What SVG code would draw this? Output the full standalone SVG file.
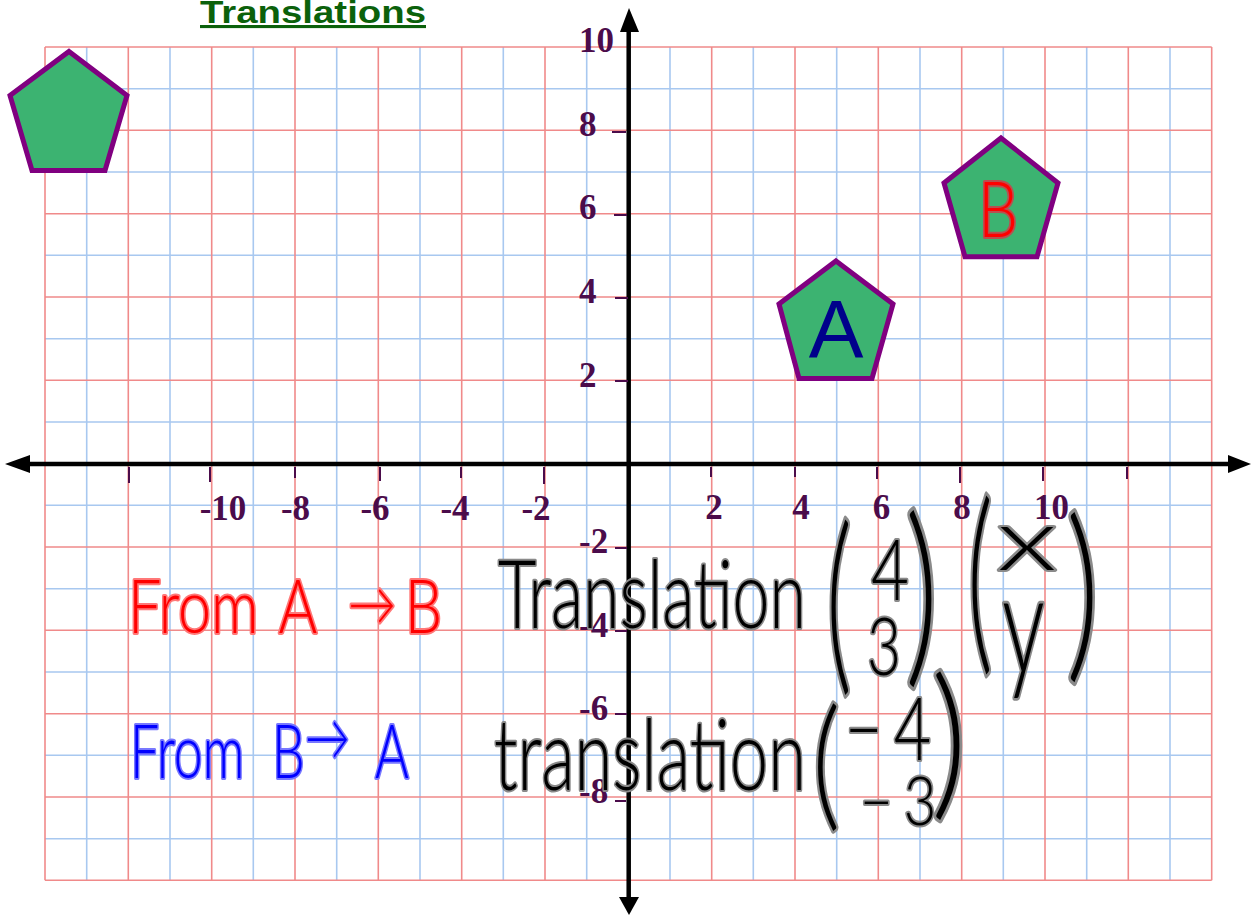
<svg xmlns="http://www.w3.org/2000/svg" width="1255" height="915" viewBox="0 0 1255 915">
<style>
.gb{stroke:#A8C8F0;stroke-width:1.6;fill:none}
.gr{stroke:#F08A8A;stroke-width:1.6;fill:none}
.axis{stroke:#000;stroke-width:4.5;fill:none}
.tick{stroke:#4B0C4B;stroke-width:2;fill:none}
.ax{font-family:"Liberation Serif",serif;font-weight:bold;font-size:35px;fill:#4B0C4B}
.axm{text-anchor:middle}
.pent{fill:#3CB371;stroke:#800080;stroke-width:5;stroke-linejoin:miter}
.hw{font-family:Lato,"Liberation Sans",sans-serif;font-weight:300;paint-order:stroke;stroke-linejoin:round;stroke-linecap:round}
.red{fill:#FF0000;stroke:#FF7878;stroke-width:4}
.blue{fill:#0000FF;stroke:#7878FF;stroke-width:4}
.blk{fill:#000;stroke:#8A8A8A;stroke-width:4}
</style>
<rect width="1255" height="915" fill="#fff"/>
<g id="grid">
<path class="gb" d="M86.7,47V880.3M170,47V880.3M253.3,47V880.3M336.7,47V880.3M420,47V880.3M503.3,47V880.3M586.7,47V880.3M670,47V880.3M753.3,47V880.3M836.7,47V880.3M920,47V880.3M1003.3,47V880.3M1086.7,47V880.3M1170,47V880.3M45,88.7H1211.7M45,172H1211.7M45,255.3H1211.7M45,338.7H1211.7M45,422H1211.7M45,505.3H1211.7M45,588.7H1211.7M45,672H1211.7M45,755.3H1211.7M45,838.7H1211.7"/>
<path class="gr" d="M45,47V880.3M128.3,47V880.3M211.7,47V880.3M295,47V880.3M378.3,47V880.3M461.7,47V880.3M545,47V880.3M628.3,47V880.3M711.7,47V880.3M795,47V880.3M878.3,47V880.3M961.7,47V880.3M1045,47V880.3M1128.3,47V880.3M1211.7,47V880.3M45,47H1211.7M45,130.3H1211.7M45,213.7H1211.7M45,297H1211.7M45,380.3H1211.7M45,463.7H1211.7M45,547H1211.7M45,630.3H1211.7M45,713.7H1211.7M45,797H1211.7M45,880.3H1211.7"/>
</g>
<g id="axes">
<path class="axis" d="M26,464H1232M628.7,28V900"/>
<polygon points="5,464 30,455 30,473" fill="#000"/>
<polygon points="1251,464 1228,455 1228,473" fill="#000"/>
<polygon points="629,8 620,32 639,32" fill="#000"/>
<polygon points="629,915 619,897 639,897" fill="#000"/>
<path class="tick" d="M612,132H626M614,215H627M615,298H628M615,381H628M615,548H627M615,631H627M615,714H627M615,801H626M129,467V483M210,467V482M295,467V478M380,467V481M461,467V478M544,467V484M711,467V477M795,467V477M877,467V479M960,467V483M1043,467V481M1127,467V479"/>
</g>
<g id="axis-labels">
<text class="ax" x="579" y="52">10</text>
<text class="ax" x="579" y="136">8</text>
<text class="ax" x="579" y="219">6</text>
<text class="ax" x="579" y="303">4</text>
<text class="ax" x="579" y="387">2</text>
<text class="ax" x="579" y="553">-2</text>
<text class="ax" x="579" y="637">-4</text>
<text class="ax" x="579" y="720">-6</text>
<text class="ax" x="579" y="803">-8</text>
<text class="ax axm" x="223" y="520">-10</text>
<text class="ax axm" x="295.5" y="520">-8</text>
<text class="ax axm" x="375" y="520">-6</text>
<text class="ax axm" x="455" y="520">-4</text>
<text class="ax axm" x="536" y="520">-2</text>
<text class="ax axm" x="714" y="519">2</text>
<text class="ax axm" x="801" y="519">4</text>
<text class="ax axm" x="881.5" y="519">6</text>
<text class="ax axm" x="962" y="519">8</text>
<text class="ax axm" x="1051.5" y="519">10</text>
</g>
<g id="title">
<text x="200" y="23" font-family="Liberation Sans, Arial, sans-serif" font-weight="bold" font-size="31" fill="#0B610B" textLength="226" lengthAdjust="spacingAndGlyphs" text-decoration="underline">Translations</text>
</g>
<g id="pentagon-1">
<polygon class="pent" points="69,51.5 127,95.5 105,170.5 32,170.5 10,95.5"/>
</g>
<g id="pentagon-A">
<polygon class="pent" points="836,261 893,304 872,378.5 799,378.5 779,304"/>
<text x="836" y="357" text-anchor="middle" font-family="Liberation Sans, Arial, sans-serif" font-size="82" fill="#00008B">A</text>
</g>
<g id="pentagon-B">
<polygon class="pent" points="1001,138 1058,183 1037,256.7 965,256.7 944,183"/>
<text class="hw" x="978" y="237" font-size="76" textLength="40" lengthAdjust="spacingAndGlyphs" fill="#FF0000" stroke="#B85050" stroke-width="4">B</text>
</g>
<g id="notes">
<text class="hw red" transform="translate(128,633) scale(0.8,1)" font-size="74"><tspan x="0">From </tspan><tspan x="188">A </tspan><tspan x="275" y="-8" font-size="60">→ </tspan><tspan x="346" y="0">B</tspan></text>
<text class="hw blue" transform="translate(130,778) scale(0.7,1)" font-size="74"><tspan x="0">From </tspan><tspan x="203">B </tspan><tspan x="250" y="-18" font-size="64">→ </tspan><tspan x="350" y="0">A</tspan></text>
<text class="hw blk" x="498" y="628" font-size="94" textLength="308" lengthAdjust="spacingAndGlyphs">Translation</text>
<text class="hw blk" transform="translate(826,669) scale(1,1.95)" font-size="100">(</text>
<text class="hw blk" x="871" y="600" font-size="84" textLength="38" lengthAdjust="spacingAndGlyphs">4</text>
<text class="hw blk" x="867" y="675" font-size="80" textLength="34" lengthAdjust="spacingAndGlyphs">3</text>
<text class="hw blk" transform="translate(905,661) scale(1.3,1.98)" font-size="100">)</text>
<text class="hw blk" transform="translate(967,648) scale(1,2)" font-size="100">(</text>
<text class="hw blk" x="997" y="570" font-size="86" textLength="60" lengthAdjust="spacingAndGlyphs">x</text>
<text class="hw blk" transform="translate(1002,673) scale(0.85,1.4)" font-size="100">y</text>
<text class="hw blk" transform="translate(1066,657) scale(1.3,1.9)" font-size="100">)</text>
<text class="hw blk" x="494" y="790" font-size="98" textLength="312" lengthAdjust="spacingAndGlyphs">translation</text>
<text class="hw blk" transform="translate(812,812) scale(1.1,1.43)" font-size="100">(</text>
<text class="hw blk" transform="translate(845,760) scale(0.75,1)" font-size="86"><tspan x="0">−</tspan><tspan x="65">4</tspan></text>
<text class="hw blk" transform="translate(860,825) scale(0.84,1)" font-size="67"><tspan x="0">−</tspan><tspan x="52">3</tspan></text>
<text class="hw blk" transform="translate(931,798) scale(1.4,1.66)" font-size="100">)</text>
</g>
</svg>
